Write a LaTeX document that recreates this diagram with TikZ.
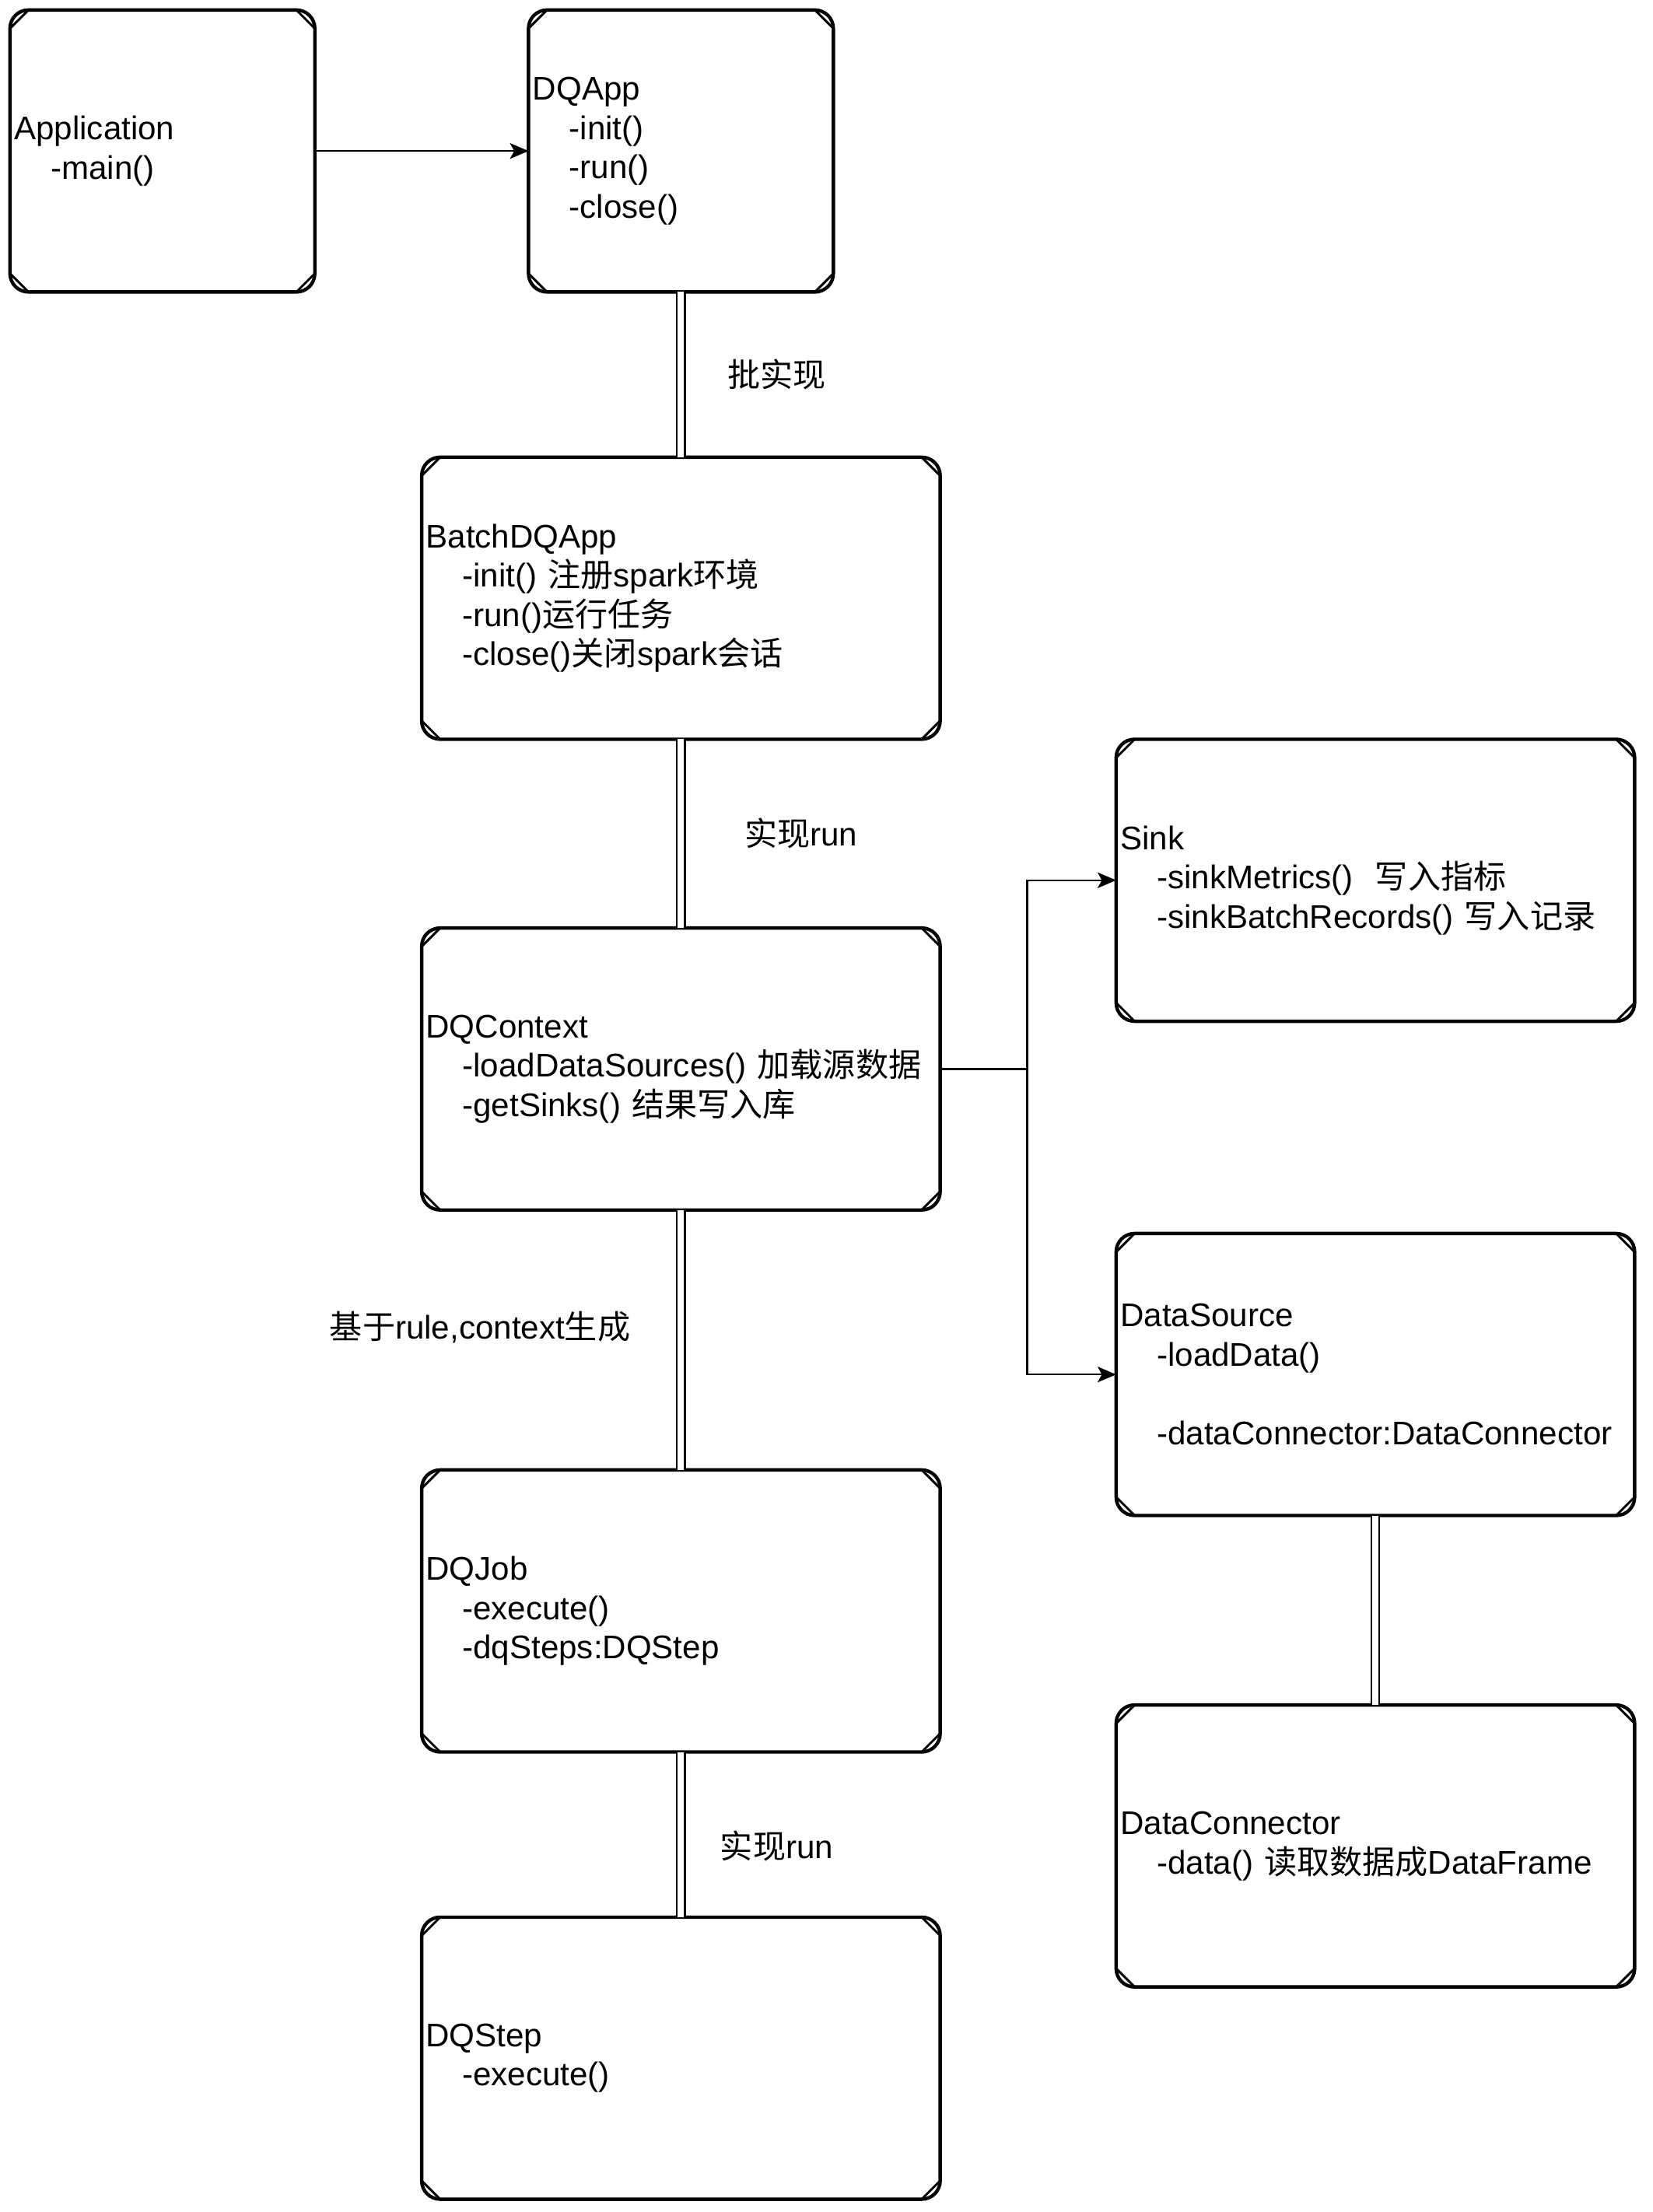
\documentclass[tikz,border=0pt]{standalone}
\usepackage{fontspec}
\setmainfont{Liberation Sans}
\newfontfamily\cjk{Noto Sans CJK SC}
\usetikzlibrary{arrows.meta}
\newcommand{\zh}[1]{{\cjk #1}}
\newcommand{\meth}{\hspace*{25.6pt}}

\begin{document}
\begin{tikzpicture}[x=1pt, y=-1pt,
        cls/.style={draw, line width=2.4pt, rounded corners=13pt, align=left,
            inner xsep=3pt, inner ysep=0pt, outer sep=0pt, minimum height=198pt,
            font=\fontsize{23pt}{27.6pt}\selectfont},
        small/.style={cls, text width=208pt},
        wide/.style={cls, text width=358pt},
        cut/.style={line width=1.6pt, line cap=round},
        arr/.style={-{Stealth[length=13pt, width=11pt, inset=3pt]}, line width=1.3pt},
        dbl/.style={double, double distance=4.5pt, line width=1.2pt},
        lbl/.style={font=\fontsize{23pt}{27.6pt}\selectfont, inner sep=0pt}]
    \useasboundingbox (0,0) rectangle (1160,1553);
    % left column
    \node[small] (app) at (114,106) {Application\\\meth-main()};
    \node[small] (dqapp) at (478,106) {DQApp\\\meth-init()\\\meth-run()\\\meth-close()};
    \node[wide] (batch) at (478,420) {BatchDQApp\\\meth-init() \zh{注册}spark\zh{环境}\\
        \meth-run()\zh{运行任务}\\\meth-close()\zh{关闭}spark\zh{会话}};
    \node[wide] (ctx) at (478,750.5) {DQContext\\\meth-loadDataSources() \zh{加载源数据}\\
        \meth-getSinks() \zh{结果写入库}};
    \node[wide] (job) at (478,1131) {DQJob\\\meth-execute()\\\meth-dqSteps:DQStep};
    \node[wide] (step) at (478,1445) {DQStep\\\meth-execute()};
    % right column
    \node[wide] (sink) at (965.5,618) {Sink\\\meth-sinkMetrics()\ \ \zh{写入指标}\\
        \meth-sinkBatchRecords() \zh{写入记录}};
    \node[wide] (src) at (965.5,965) {DataSource\\\meth-loadData()\\\mbox{}\\
        \meth-dataConnector:DataConnector};
    \node[wide] (conn) at (965.5,1296) {DataConnector\\\meth-data() \zh{读取数据成}DataFrame};

    % sketchy corners
    \foreach \n in {app,dqapp,batch,ctx,job,step,sink,src,conn} {
        \draw[cut] ([xshift=13pt]\n.north west) -- ([yshift=-13pt]\n.north west);
        \draw[cut] ([xshift=-13pt]\n.north east) -- ([yshift=-13pt]\n.north east);
        \draw[cut] ([xshift=13pt]\n.south west) -- ([yshift=13pt]\n.south west);
        \draw[cut] ([xshift=-13pt]\n.south east) -- ([yshift=13pt]\n.south east);
    }

    \draw[arr] (app) -- (dqapp);
    \draw[dbl] (dqapp) -- (batch)
        node[lbl, midway, anchor=west, xshift=32pt] {\zh{批实现}};
    \draw[dbl] (batch) -- (ctx)
        node[lbl, midway, anchor=west, xshift=44pt] {\zh{实现}run};
    \draw[dbl] (ctx) -- (job)
        node[lbl, midway, anchor=east, xshift=-35pt, yshift=9pt] {\zh{基于}rule,context\zh{生成}};
    \draw[dbl] (job) -- (step)
        node[lbl, midway, anchor=west, xshift=27pt, yshift=-8pt] {\zh{实现}run};
    \draw[dbl] (src) -- (conn);

    \coordinate (split) at (721,750.5);
    \draw[arr] (ctx.east) -- (split) |- (sink.west);
    \draw[arr] (split) |- (src.west);
\end{tikzpicture}
\end{document}
